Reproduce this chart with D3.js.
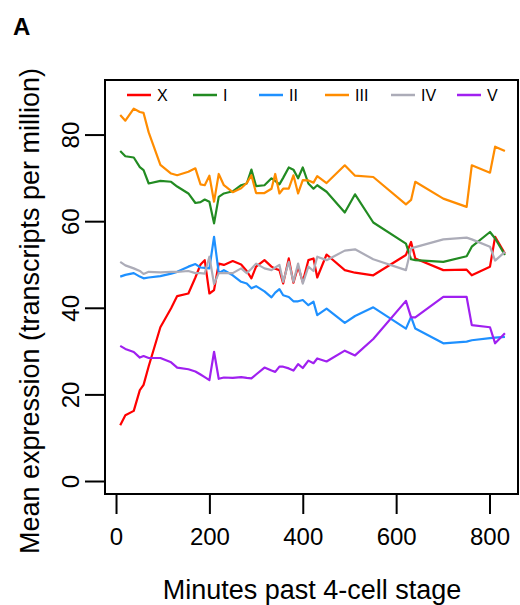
<!DOCTYPE html>
<html>
<head>
<meta charset="utf-8">
<script src="https://cdn.jsdelivr.net/npm/d3@7"></script>
<style>
  body { margin: 0; background: #fff; }
  svg text { font-family: "Liberation Sans", Arial, Helvetica, sans-serif; fill: #000; }
</style>
</head>
<body>
<div class="diagram-canvas"></div>
<script>
let minutes = [9, 20, 38, 51, 59, 70, 95, 118, 131, 155, 170, 181, 190, 200, 210, 220, 231, 250, 268, 280,
  290, 300, 318, 333, 341, 350, 358, 370, 380, 390, 400, 412, 423, 431, 451, 490, 512, 551, 621, 632,
  641, 701, 751, 762, 801, 812, 833];

let seriesNames = ["X", "I", "II", "III", "IV", "V"];

let valuesX = [12.9, 15.2, 16.2, 21, 22.2, 26.5, 35.5, 39.9, 42.7, 43.3, 47, 50, 51, 43.3, 44.1, 50.2, 49.9, 50.8, 50, 48.5,
  46.8, 49.5, 51, 49.5, 49, 48.7, 45.6, 51.4, 45.8, 49.5, 46, 51, 51.4, 47, 52.3, 48.7, 48.1, 47.5, 52.2, 55.2,
  51.4, 48.7, 48.8, 47.5, 49.5, 56.4, 52.5];
let valuesI = [76.2, 75, 74.7, 72.5, 71.8, 68.7, 69.3, 69.1, 68, 66.4, 64.2, 64.4, 65, 64.5, 59.5, 65.6, 66.4, 66.9, 68.3, 68.7,
  71.9, 68.1, 68.3, 69.9, 69.3, 68.5, 70, 72.4, 71.9, 69.9, 72.4, 68.7, 67.5, 68.3, 66.8, 62, 66.2, 59.7, 54.8, 51.2,
  51, 50.6, 51.9, 54.1, 57.5, 56, 52.2];
let valuesII = [47.2, 47.6, 48, 47.2, 46.8, 47, 47.3, 47.9, 48.3, 49.5, 50.1, 49.3, 49.2, 49.1, 56.4, 48, 48.7, 47.5, 46, 45.6,
  44.5, 45, 43.8, 42.4, 43.5, 44.3, 42.9, 42.5, 41.5, 41.5, 41.8, 40.6, 41.4, 38.3, 39.8, 36.5, 38.1, 40.1, 35.2, 37.9,
  35.2, 31.8, 32.2, 32.5, 33, 33.1, 33.3];
let valuesIII = [84.5, 83.2, 86, 85.2, 85, 80.5, 73, 71, 70.6, 71.4, 72.2, 68.5, 68.3, 70.5, 64.5, 70.9, 68.3, 66.7, 67.6, 68.8,
  70.6, 66.5, 66.5, 67.5, 70.9, 66.4, 67.5, 67.5, 70.6, 66.4, 69.5, 69.4, 68.9, 70.4, 68.8, 72.9, 70.5, 70.2, 63.9, 64.9,
  69.1, 65.2, 63.3, 72.9, 71.2, 77.2, 76.2];
let valuesIV = [50.6, 49.8, 49.1, 48.5, 47.8, 48.3, 48.2, 48.3, 48.3, 48.5, 48, 48, 47.9, 51.8, 45.5, 48, 48, 48, 49.1, 48,
  49, 50.2, 49.1, 48.7, 49.3, 49.9, 46, 50.6, 46, 50.2, 45.6, 49.5, 48.5, 51.8, 51, 53.2, 53.5, 51.2, 48.7, 53.7,
  54, 55.8, 56.2, 55.8, 54.1, 50.9, 52.9];
let valuesV = [31.2, 30.5, 29.8, 28.5, 28.85, 28.4, 28.4, 27.4, 26.2, 25.8, 25.3, 24.6, 24, 23.3, 29.85, 23.6, 23.9, 23.8, 24, 23.8,
  23.7, 24.6, 26.2, 25.5, 25.2, 26.4, 26.4, 26, 25.5, 27, 26.1, 27.8, 27.2, 28.3, 27.6, 30.1, 29, 32.8, 41.6, 37.8,
  37.8, 42.5, 42.5, 36, 35.5, 31.8, 34.1];

let xTicks = [0, 200, 400, 600, 800];
let yTicks = [0, 20, 40, 60, 80];

let colors = ["#ff0000", "#228b22", "#1e90ff", "#ff8c00", "#acacb8", "#a020f0"];

let allValues = [valuesX, valuesI, valuesII, valuesIII, valuesIV, valuesV];
let dataset = seriesNames.map((name, i) => ({
  name: name,
  color: colors[i],
  points: minutes.map((m, j) => ({ t: m, v: allValues[i][j] }))
}));

let width = 520,
  height = 605;
let box = { left: 105, right: 518, top: 80, bottom: 494 };

let xScale = d3.scaleLinear().domain([-23.6, 861]).range([box.left, box.right]);
let yScale = d3.scaleLinear().domain([-3, 92.6]).range([box.bottom, box.top]);

let svg = d3
  .select(".diagram-canvas")
  .append("svg")
  .attr("width", width)
  .attr("height", height);

// panel letter
svg
  .append("text")
  .attr("x", 13)
  .attr("y", 35)
  .style("font-size", "24px")
  .style("font-weight", "bold")
  .text("A");

// lines
let line = d3
  .line()
  .x((d) => xScale(d.t))
  .y((d) => yScale(d.v));

svg
  .selectAll(".series")
  .data(dataset)
  .enter()
  .append("path")
  .attr("class", "series")
  .attr("d", (d) => line(d.points))
  .attr("fill", "none")
  .attr("stroke", (d) => d.color)
  .attr("stroke-width", 2.2)
  .attr("stroke-linejoin", "round");

// box
svg
  .append("rect")
  .attr("x", box.left)
  .attr("y", box.top)
  .attr("width", box.right - box.left)
  .attr("height", box.bottom - box.top)
  .attr("fill", "none")
  .attr("stroke", "black")
  .attr("stroke-width", 2);

// axes
let xAxis = d3.axisBottom(xScale).tickValues(xTicks).tickSize(20).tickPadding(14).tickSizeOuter(0);
let yAxis = d3.axisLeft(yScale).tickValues(yTicks).tickSize(20).tickPadding(0).tickSizeOuter(0);

let gx = svg
  .append("g")
  .attr("id", "x-axis")
  .attr("transform", "translate(0," + box.bottom + ")")
  .call(xAxis);
gx.select(".domain").remove();
gx.selectAll("line").attr("stroke-width", 2);
gx.selectAll("text").style("font-size", "24px");

let gy = svg
  .append("g")
  .attr("id", "y-axis")
  .attr("transform", "translate(" + box.left + ",0)")
  .call(yAxis);
gy.select(".domain").remove();
gy.selectAll("line").attr("stroke-width", 2);
gy.selectAll("text")
  .style("font-size", "24px")
  .attr("x", null)
  .attr("dy", null)
  .attr("text-anchor", "middle")
  .attr("transform", "translate(-26,0) rotate(-90)");

// axis titles
svg
  .append("text")
  .attr("x", 312)
  .attr("y", 599)
  .attr("text-anchor", "middle")
  .style("font-size", "27px")
  .text("Minutes past 4-cell stage");

svg
  .append("text")
  .attr("transform", "translate(39,311) rotate(-90)")
  .attr("text-anchor", "middle")
  .style("font-size", "27px")
  .text("Mean expression (transcripts per million)");

// legend
let legend = svg
  .append("g")
  .attr("id", "legend")
  .selectAll("g")
  .data(dataset)
  .enter()
  .append("g")
  .attr("transform", (d, i) => "translate(" + (127 + i * 66) + ",95)");

legend
  .append("line")
  .attr("x1", 0)
  .attr("x2", 24)
  .attr("stroke", (d) => d.color)
  .attr("stroke-width", 2.5);

legend
  .append("text")
  .attr("x", 30)
  .attr("y", 6)
  .style("font-size", "16px")
  .text((d) => d.name);
</script>
</body>
</html>
